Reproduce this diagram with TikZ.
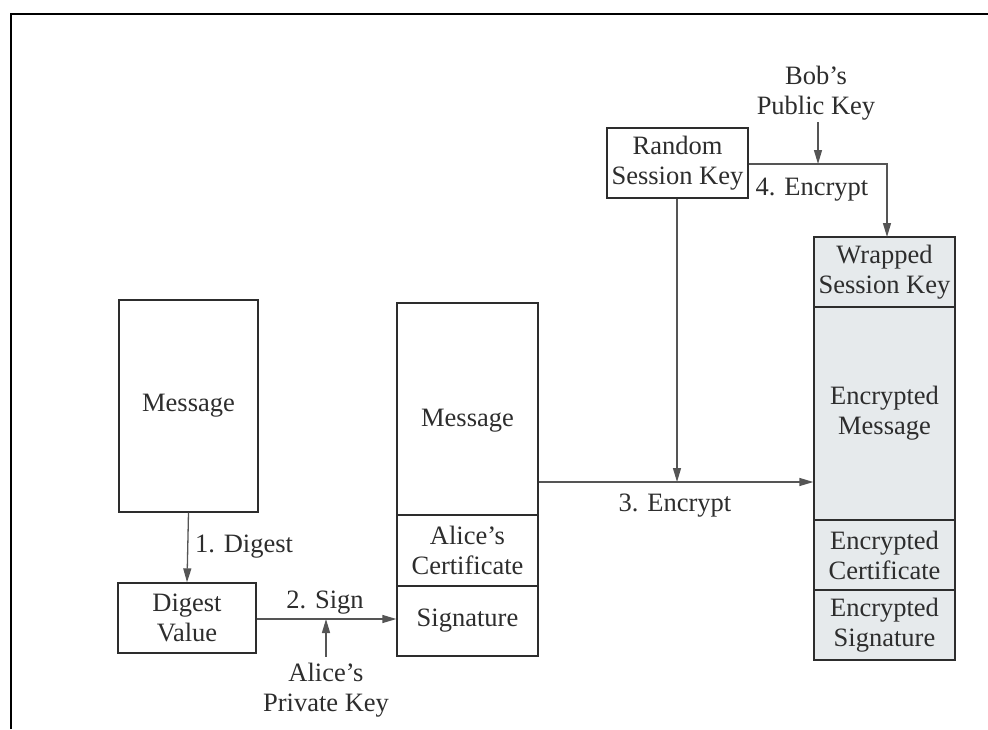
\documentclass[tikz,border=0pt]{standalone}
\usepackage{fontspec}
\setmainfont{Liberation Serif}
\usetikzlibrary{arrows.meta}
\definecolor{inkc}{RGB}{45,45,45}
\definecolor{arrc}{RGB}{85,85,85}
\definecolor{encfill}{RGB}{230,234,236}
\begin{document}
\begin{tikzpicture}[x=1pt,y=-1pt,
  txt/.style={font=\fontsize{26.5}{30}\selectfont,text=inkc,align=center,inner sep=0pt},
  box/.style={txt,draw=inkc,line width=1.3pt,rectangle},
  encbox/.style={box,fill=encfill},
  arr/.style={draw=arrc,line width=1.3pt,-{Triangle[length=14pt,width=8pt]}},
  plainline/.style={draw=arrc,line width=1.3pt}]
\useasboundingbox (0,0) rectangle (988,729);
\draw[line width=1.5pt] (11,729) -- (11,14) -- (988,14);
% left column
\node[box,minimum width=139pt,minimum height=212pt] (msg1) at (188.5,406) {Message};
\node[box,minimum width=138pt,minimum height=70pt] (dig) at (187,618) {Digest\\Value};
% middle stack
\node[box,minimum width=141pt,minimum height=212pt] (msg2) at (467.5,409) {};
\node[txt] (msg2t) at (467.5,421) {Message};
\node[box,minimum width=141pt,minimum height=71pt] (cert) at (467.5,550.5) {Alice's\\Certificate};
\node[box,minimum width=141pt,minimum height=70pt] (sig) at (467.5,621) {Signature};
% random session key
\node[box,minimum width=141pt,minimum height=70pt] (rsk) at (677.5,163) {Random\\Session Key};
% right stack
\node[encbox,minimum width=141pt,minimum height=70pt] (wsk) at (884.5,272) {Wrapped\\Session Key};
\node[encbox,minimum width=141pt,minimum height=213pt] (emsg) at (884.5,413.5) {Encrypted\\Message};
\node[encbox,minimum width=141pt,minimum height=70pt] (ecert) at (884.5,555) {Encrypted\\Certificate};
\node[encbox,minimum width=141pt,minimum height=70pt] (esig) at (884.5,625) {Encrypted\\Signature};
% key labels
\node[txt] (apk) at (326,690) {Alice's\\Private Key};
\node[txt] (bpk) at (816,93) {Bob's\\Public Key};
% step labels
\node[txt] (l1) at (244,547) {1. Digest};
\node[txt] (l2) at (325,603) {2. Sign};
\node[txt] (l3) at (675,506) {3. Encrypt};
\node[txt] (l4) at (812,190) {4. Encrypt};
% connectors
\draw[arr] (msg1.south) -- (dig.north);
\coordinate (j2) at (326,619);
\draw[arr] (j2 -| dig.east) -- (j2 -| sig.west);
\draw[arr] (apk.north) ++(0,-6) -- (j2);
\coordinate (j3) at (677,482);
\draw[arr] (j3 -| msg2.east) -- (j3 -| emsg.west);
\draw[arr] (rsk.south -| j3) -- (j3);
\coordinate (j4) at (818,164);
\draw[arr] (j4 -| rsk.east) -- (887,164) -- (887,237);
\draw[arr] (bpk.south) ++(2,2) -- (j4);
\end{tikzpicture}
\end{document}
